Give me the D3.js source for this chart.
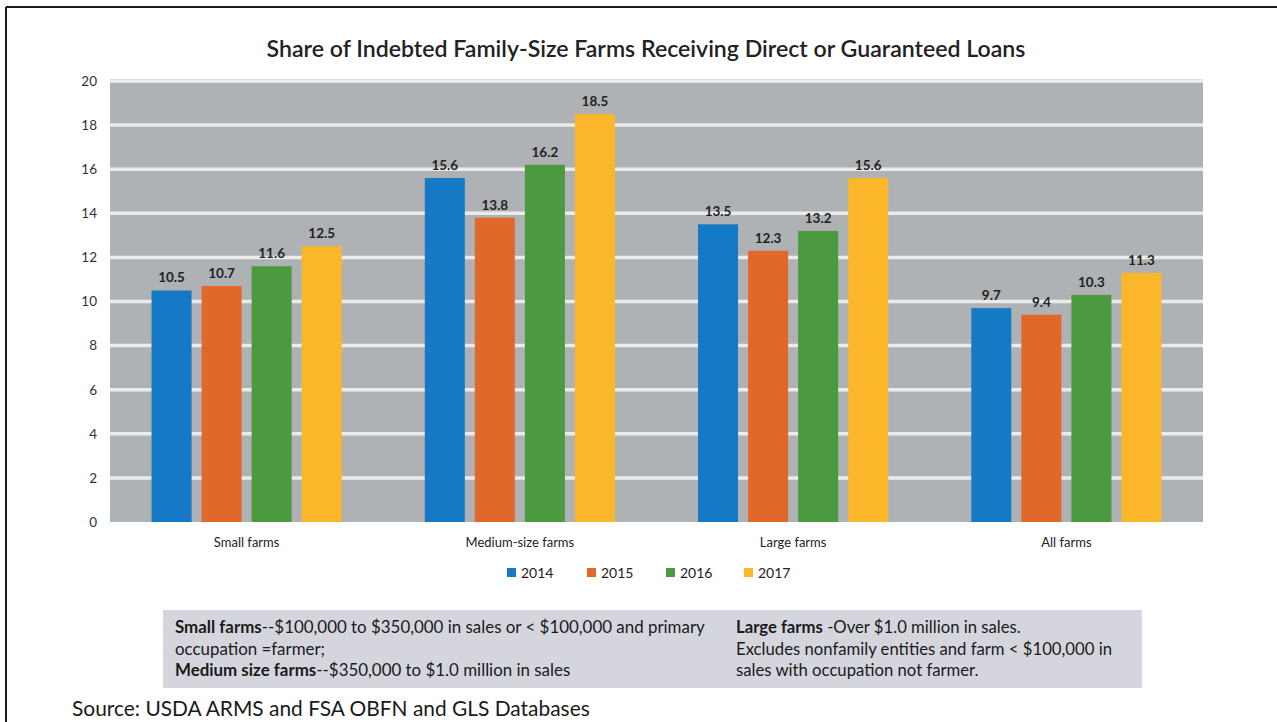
<!DOCTYPE html>
<html>
<head>
<meta charset="utf-8">
<script src="https://cdn.jsdelivr.net/npm/d3@7"></script>
<style>
  html, body { margin: 0; padding: 0; background: #ffffff; }
  svg { display: block; }
  text { font-family: Lato, "Open Sans", sans-serif; }
</style>
</head>
<body>
<svg id="chart" width="1277" height="722"></svg>
<script>
// ---- data ----
const categories = ["Small farms", "Medium-size farms", "Large farms", "All farms"];
const seriesNames = ["2014", "2015", "2016", "2017"];
const values2014 = [10.5, 15.6, 13.5, 9.7];
const values2015 = [10.7, 13.8, 12.3, 9.4];
const values2016 = [11.6, 16.2, 13.2, 10.3];
const values2017 = [12.5, 18.5, 15.6, 11.3];
const yTicks = [0, 2, 4, 6, 8, 10, 12, 14, 16, 18, 20];
const titleText = "Share of Indebted Family-Size Farms Receiving Direct or Guaranteed Loans";
const sourceText = "Source: USDA ARMS and FSA OBFN and GLS Databases";
const noteLeft = [
  [["Small farms", true], ["--$100,000 to $350,000 in sales or < $100,000 and primary", false]],
  [["occupation =farmer;", false]],
  [["Medium size farms", true], ["--$350,000 to $1.0 million in sales", false]]
];
const noteRight = [
  [["Large farms", true], [" -Over $1.0 million in sales.", false]],
  [["Excludes nonfamily entities and farm < $100,000 in", false]],
  [["sales with occupation not farmer.", false]]
];

const seriesValues = [values2014, values2015, values2016, values2017];
const colors = ["#1579c6", "#e2672a", "#4b9a3f", "#fbb62a"];

const svg = d3.select("#chart");

// frame
svg.append("line").attr("x1", 6).attr("x2", 1277).attr("y1", 7).attr("y2", 7)
  .attr("stroke", "#1a1a1a").attr("stroke-width", 2);
svg.append("line").attr("x1", 6).attr("x2", 6).attr("y1", 7).attr("y2", 722)
  .attr("stroke", "#1a1a1a").attr("stroke-width", 2);

function fitText(sel, targetWidth) {
  const node = sel.node();
  const w = node.getComputedTextLength();
  const fs = parseFloat(sel.attr("font-size"));
  sel.attr("font-size", (fs * targetWidth / w).toFixed(2));
}

// title
const title = svg.append("text")
  .attr("x", 646).attr("y", 57)
  .attr("text-anchor", "middle")
  .attr("font-size", 20).attr("font-weight", 600)
  .attr("fill", "#222")
  .text(titleText);
fitText(title, 759);

// plot area
const plot = { left: 110, right: 1203, top: 81, bottom: 522 };
const y = d3.scaleLinear().domain([0, 20]).range([plot.bottom, plot.top]);
const x0 = d3.scaleBand().domain(categories).range([plot.left, plot.right]).padding(0);
const x1 = d3.scaleBand().domain(seriesNames).range([0, x0.bandwidth()])
  .paddingInner(0.2).paddingOuter(0.83);

svg.append("rect")
  .attr("x", plot.left).attr("y", plot.top - 2)
  .attr("width", plot.right - plot.left).attr("height", plot.bottom - plot.top + 2)
  .attr("fill", "#afb2b5");

// gridlines
svg.append("g").selectAll("line").data(yTicks.filter(d => d > 0)).join("line")
  .attr("x1", plot.left).attr("x2", plot.right)
  .attr("y1", d => y(d)).attr("y2", d => y(d))
  .attr("stroke", "#ebebeb").attr("stroke-width", 3.5);

// y axis labels
const yAxis = d3.axisLeft(y).tickValues(yTicks).tickSize(0).tickPadding(13);
const yg = svg.append("g").attr("transform", `translate(${plot.left},0)`).call(yAxis);
yg.select(".domain").remove();
yg.selectAll("text").attr("font-size", 13.5).attr("fill", "#333")
  .attr("font-family", "Lato, 'Open Sans', sans-serif");

// bars
const groups = svg.append("g").selectAll("g").data(categories).join("g")
  .attr("transform", d => `translate(${x0(d)},0)`);
groups.each(function(cat, ci) {
  const g = d3.select(this);
  seriesNames.forEach((s, si) => {
    const v = seriesValues[si][ci];
    g.append("rect")
      .attr("x", x1(s)).attr("width", x1.bandwidth())
      .attr("y", y(v)).attr("height", y(0) - y(v))
      .attr("fill", colors[si]);
    g.append("text")
      .attr("x", x1(s) + x1.bandwidth() / 2)
      .attr("y", y(v) - 8)
      .attr("text-anchor", "middle")
      .attr("font-size", 13.5).attr("font-weight", 700)
      .attr("fill", "#222")
      .text(v.toFixed(1));
  });
});

// x axis labels
const xAxis = d3.axisBottom(x0).tickSize(0).tickPadding(16);
const xg = svg.append("g").attr("transform", `translate(0,${plot.bottom})`).call(xAxis);
xg.select(".domain").remove();
xg.selectAll("text").attr("font-size", 13).attr("fill", "#222")
  .attr("font-family", "Lato, 'Open Sans', sans-serif");

// legend
const legendX = [507, 587, 666, 744];
const legend = svg.append("g").selectAll("g").data(seriesNames).join("g")
  .attr("transform", (d, i) => `translate(${legendX[i]},568)`);
legend.append("rect").attr("width", 9).attr("height", 9).attr("fill", (d, i) => colors[i]);
legend.append("text").attr("x", 14).attr("y", 10)
  .attr("font-size", 14).attr("fill", "#222").text(d => d);

// note box
svg.append("rect").attr("x", 163).attr("y", 610).attr("width", 979).attr("height", 78)
  .attr("fill", "#d5d6dd");

function drawNote(lines, x, targetLineIdx, targetWidth) {
  const g = svg.append("g");
  const texts = lines.map((parts, i) => {
    const t = g.append("text").attr("x", x).attr("y", 633 + i * 21.5)
      .attr("font-size", 15).attr("fill", "#1a1a1a");
    parts.forEach(p => t.append("tspan").attr("font-weight", p[1] ? 700 : 400).text(p[0]));
    return t;
  });
  const w = texts[targetLineIdx].node().getComputedTextLength();
  const fs = 15 * targetWidth / w;
  texts.forEach(t => t.attr("font-size", fs.toFixed(2)));
}
drawNote(noteLeft, 175, 0, 530);
drawNote(noteRight, 736, 1, 376);

// source
const src = svg.append("text").attr("x", 72).attr("y", 716)
  .attr("font-size", 20).attr("fill", "#1a1a1a").text(sourceText);
fitText(src, 518);
</script>
</body>
</html>
